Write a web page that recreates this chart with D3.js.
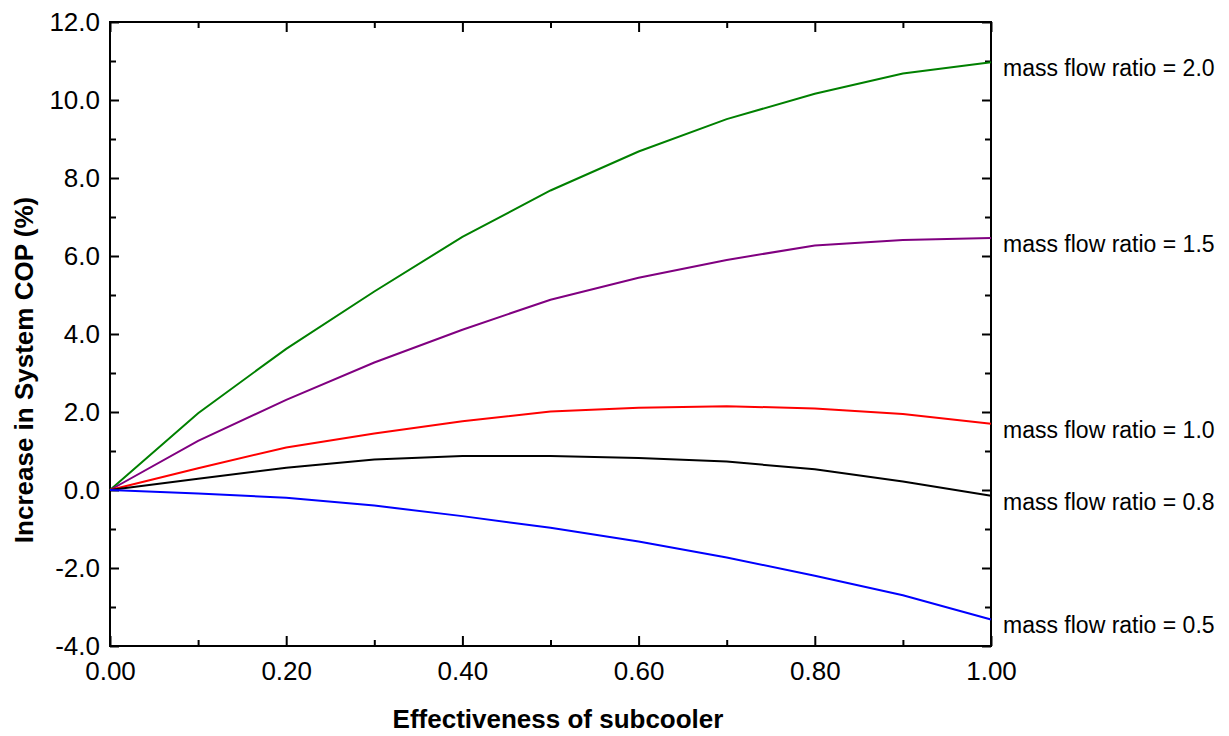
<!DOCTYPE html>
<html>
<head>
<meta charset="utf-8">
<script src="https://cdn.jsdelivr.net/npm/d3@7"></script>
<style>
  body { margin: 0; background: #fff; }
  text { font-family: "Liberation Sans", Arial, sans-serif; fill: #000; }
</style>
</head>
<body>
<div id="chart"></div>
<script>
// subcooler effectiveness (x) and COP increase (%) per mass flow ratio
const effectiveness = [0, 0.1, 0.2, 0.3, 0.4, 0.5, 0.6, 0.7, 0.8, 0.9, 1.0];
const ratio20 = [0, 1.97, 3.62, 5.09, 6.49, 7.68, 8.68, 9.51, 10.16, 10.68, 10.97];
const ratio15 = [0, 1.26, 2.31, 3.27, 4.11, 4.88, 5.44, 5.90, 6.27, 6.41, 6.46];
const ratio10 = [0, 0.56, 1.09, 1.45, 1.76, 2.01, 2.11, 2.15, 2.09, 1.95, 1.70];
const ratio08 = [0, 0.29, 0.57, 0.78, 0.87, 0.87, 0.82, 0.73, 0.53, 0.22, -0.15];
const ratio05 = [0, -0.09, -0.20, -0.40, -0.67, -0.97, -1.32, -1.73, -2.20, -2.70, -3.32];

const seriesLabels = ["mass flow ratio = 2.0", "mass flow ratio = 1.5", "mass flow ratio = 1.0",
  "mass flow ratio = 0.8", "mass flow ratio = 0.5"];
const seriesColors = ["#008000", "#800080", "#ff0000", "#000000", "#0000ff"];

const xTicks = [0, 0.2, 0.4, 0.6, 0.8, 1.0];
const xMinorTicks = [0.1, 0.3, 0.5, 0.7, 0.9];
const yTicks = [-4, -2, 0, 2, 4, 6, 8, 10, 12];
const yMinorTicks = [-3, -1, 1, 3, 5, 7, 9, 11];

const series = [ratio20, ratio15, ratio10, ratio08, ratio05].map((vals, i) => ({
  label: seriesLabels[i],
  color: seriesColors[i],
  points: vals.map((v, j) => ({ x: effectiveness[j], y: v }))
}));

const width = 1229;
const height = 736;
const margin = { top: 22, right: 238, bottom: 90, left: 110 };
const innerW = width - margin.left - margin.right;
const innerH = height - margin.top - margin.bottom;

const svg = d3.select("#chart").append("svg")
  .attr("width", width)
  .attr("height", height);

const g = svg.append("g").attr("transform", `translate(${margin.left},${margin.top})`);

const x = d3.scaleLinear().domain([0, 1]).range([0, innerW]);
const y = d3.scaleLinear().domain([-4, 12]).range([innerH, 0]);

// plain hyphen for negatives, like the original plot
const fmtX = d => d3.format(".2f")(d).replace("\u2212", "-");
const fmtY = d => d3.format(".1f")(d).replace("\u2212", "-");

// axes with inward ticks on all four sides
function styleAxis(sel) {
  sel.select(".domain").remove();
  sel.selectAll(".tick line").attr("stroke", "#000").attr("stroke-width", 2);
}

g.append("g").attr("transform", `translate(0,${innerH})`)
  .call(d3.axisBottom(x).tickValues(xTicks).tickSize(-10).tickPadding(16).tickFormat(fmtX))
  .call(styleAxis)
  .selectAll("text").attr("font-size", 26);
g.append("g").attr("transform", `translate(0,${innerH})`)
  .call(d3.axisBottom(x).tickValues(xMinorTicks).tickSize(-6).tickFormat(""))
  .call(styleAxis);
g.append("g")
  .call(d3.axisTop(x).tickValues(xTicks).tickSize(-10).tickFormat(""))
  .call(styleAxis);
g.append("g")
  .call(d3.axisTop(x).tickValues(xMinorTicks).tickSize(-6).tickFormat(""))
  .call(styleAxis);

g.append("g")
  .call(d3.axisLeft(y).tickValues(yTicks).tickSize(-9).tickPadding(10).tickFormat(fmtY))
  .call(styleAxis)
  .selectAll("text").attr("font-size", 26);
g.append("g")
  .call(d3.axisLeft(y).tickValues(yMinorTicks).tickSize(-6).tickFormat(""))
  .call(styleAxis);
g.append("g").attr("transform", `translate(${innerW},0)`)
  .call(d3.axisRight(y).tickValues(yTicks).tickSize(-9).tickFormat(""))
  .call(styleAxis);
g.append("g").attr("transform", `translate(${innerW},0)`)
  .call(d3.axisRight(y).tickValues(yMinorTicks).tickSize(-6).tickFormat(""))
  .call(styleAxis);

// frame
g.append("rect")
  .attr("width", innerW)
  .attr("height", innerH)
  .attr("fill", "none")
  .attr("stroke", "#000")
  .attr("stroke-width", 2);

const line = d3.line().x(d => x(d.x)).y(d => y(d.y));

g.selectAll(".series")
  .data(series)
  .enter()
  .append("path")
  .attr("class", "series")
  .attr("d", d => line(d.points))
  .attr("fill", "none")
  .attr("stroke", d => d.color)
  .attr("stroke-width", 2);

// labels at the right end of each line
g.selectAll(".series-label")
  .data(series)
  .enter()
  .append("text")
  .attr("class", "series-label")
  .attr("x", innerW + 12)
  .attr("y", d => y(d.points[d.points.length - 1].y) + 14)
  .attr("font-size", 23)
  .text(d => d.label);

// axis titles
svg.append("text")
  .attr("x", 558)
  .attr("y", 728)
  .attr("text-anchor", "middle")
  .attr("font-size", 26)
  .attr("font-weight", "bold")
  .text("Effectiveness of subcooler");

svg.append("text")
  .attr("transform", "translate(33,370) rotate(-90)")
  .attr("text-anchor", "middle")
  .attr("font-size", 26)
  .attr("font-weight", "bold")
  .text("Increase in System COP (%)");
</script>
</body>
</html>
